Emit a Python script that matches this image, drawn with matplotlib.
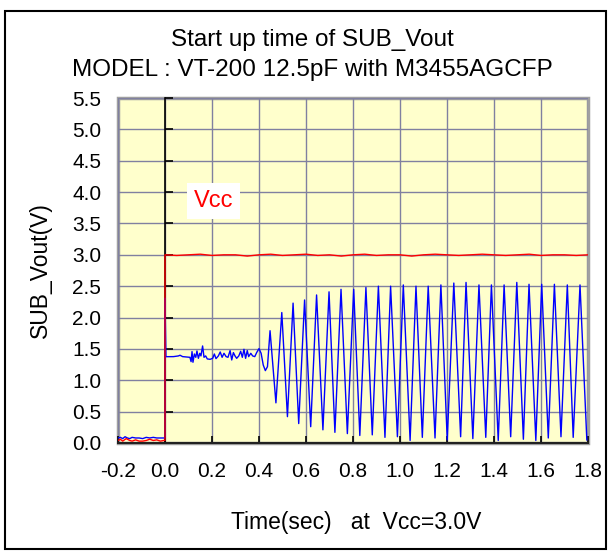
import matplotlib
matplotlib.use("Agg")
import matplotlib.pyplot as plt
from matplotlib.patches import Rectangle

plt.rcParams['font.family'] = ['Liberation Sans', 'DejaVu Sans']

# --- dados ---
# SUB_Vout antes de t=0
pre_t = [-0.200, -0.190, -0.180, -0.170, -0.160, -0.150, -0.140, -0.125, -0.110,
         -0.095, -0.080, -0.065, -0.050, -0.035, -0.020, -0.005, 0.000]
pre_v = [0.08, 0.09, 0.07, 0.10, 0.08, 0.07, 0.09, 0.08, 0.08,
         0.07, 0.09, 0.08, 0.09, 0.08, 0.08, 0.08, 0.08]

# pico no instante da partida e patamar com ruído
flat_t = [0.000, 0.004, 0.036, 0.057, 0.064, 0.075, 0.106, 0.111, 0.115, 0.119,
          0.125, 0.131, 0.136, 0.142, 0.148, 0.153, 0.160, 0.166, 0.173, 0.180,
          0.192, 0.203, 0.210, 0.217, 0.227, 0.235, 0.243, 0.251, 0.260, 0.268,
          0.277, 0.284, 0.291, 0.298, 0.305, 0.314, 0.322, 0.329, 0.336, 0.343,
          0.350, 0.356, 0.365, 0.373, 0.382, 0.390, 0.400, 0.409, 0.418, 0.427,
          0.436]
flat_v = [2.31, 1.376, 1.377, 1.388, 1.399, 1.377, 1.366, 1.297, 1.457, 1.287,
          1.419, 1.366, 1.467, 1.350, 1.430, 1.388, 1.547, 1.366, 1.388, 1.340,
          1.334, 1.350, 1.419, 1.345, 1.388, 1.451, 1.366, 1.430, 1.377, 1.366,
          1.473, 1.324, 1.441, 1.388, 1.350, 1.388, 1.462, 1.366, 1.494, 1.350,
          1.473, 1.377, 1.430, 1.388, 1.377, 1.441, 1.505, 1.430, 1.244, 1.154,
          1.217]

# oscilação: picos e vales
osc_t = [0.447, 0.472, 0.497, 0.521, 0.545, 0.569, 0.594, 0.620, 0.645, 0.672,
         0.698, 0.723, 0.749, 0.776, 0.803, 0.829, 0.855, 0.882, 0.908, 0.936,
         0.960, 0.989, 1.014, 1.043, 1.068, 1.095, 1.120, 1.149, 1.174, 1.201,
         1.229, 1.258, 1.281, 1.310, 1.336, 1.365, 1.389, 1.418, 1.443, 1.471,
         1.497, 1.525, 1.549, 1.578, 1.603, 1.631, 1.657, 1.685, 1.712, 1.737,
         1.766, 1.795]
osc_v = [1.79, 0.64, 2.08, 0.42, 2.23, 0.31, 2.28, 0.26, 2.36, 0.21,
         2.41, 0.17, 2.45, 0.15, 2.45, 0.12, 2.48, 0.13, 2.50, 0.09,
         2.50, 0.10, 2.52, 0.04, 2.50, 0.09, 2.50, 0.08, 2.52, 0.05,
         2.55, 0.10, 2.56, 0.07, 2.52, 0.09, 2.52, 0.04, 2.52, 0.10,
         2.56, 0.06, 2.53, 0.04, 2.53, 0.08, 2.53, 0.10, 2.52, 0.09,
         2.52, 0.05]

# Vcc
vcc_t = [-0.200, -0.190, -0.180, -0.165, -0.150, -0.140, -0.125, -0.110, -0.095,
         -0.080, -0.065, -0.050, -0.035, -0.020, -0.005, 0.000,
         0.000, 0.050, 0.100, 0.150, 0.200, 0.250, 0.300, 0.350, 0.400, 0.450,
         0.500, 0.550, 0.600, 0.650, 0.700, 0.750, 0.800, 0.850, 0.900, 0.950,
         1.000, 1.050, 1.100, 1.150, 1.200, 1.250, 1.300, 1.350, 1.400, 1.450,
         1.500, 1.550, 1.600, 1.650, 1.700, 1.750, 1.800]
vcc_v = [0.04, 0.06, 0.03, 0.07, 0.04, 0.03, 0.05, 0.03, 0.03,
         0.04, 0.06, 0.04, 0.05, 0.03, 0.04, 0.04,
         3.00, 2.99, 3.00, 3.01, 2.99, 3.00, 3.00, 2.98, 3.00, 3.01,
         2.99, 3.00, 3.01, 2.99, 3.00, 2.98, 3.00, 3.01, 2.99, 3.00,
         3.00, 2.98, 3.00, 3.01, 3.00, 2.99, 3.00, 3.01, 3.00, 2.99,
         3.00, 3.01, 2.99, 3.00, 3.00, 2.99, 3.00]

x_ticks = [-0.2, 0.0, 0.2, 0.4, 0.6, 0.8, 1.0, 1.2, 1.4, 1.6, 1.8]
y_ticks = [0.0, 0.5, 1.0, 1.5, 2.0, 2.5, 3.0, 3.5, 4.0, 4.5, 5.0, 5.5]

# --- figura ---
fig = plt.figure(figsize=(6.12, 5.55), dpi=100)
ax = fig.add_axes([118 / 612, 1 - 443 / 555, 470 / 612, 345 / 555])
ax.set_facecolor('#FFFFCC')

blue_t = pre_t + flat_t + osc_t
blue_v = pre_v + flat_v + osc_v
ax.plot(blue_t, blue_v, color='#0000FF', lw=1.0, zorder=3)
ax.plot(vcc_t, vcc_v, color='#FF0000', lw=1.0, zorder=4)

ax.set_xlim(-0.2, 1.8)
ax.set_ylim(0, 5.5)
ax.set_xticks(x_ticks)
ax.set_yticks(y_ticks)
ax.set_xticklabels([f'{v:.1f}' for v in x_ticks])
ax.set_yticklabels([f'{v:.1f}' for v in y_ticks])
ax.grid(True, color='#8080A0', lw=1.0, zorder=1)
ax.set_axisbelow(True)

# bordas da área de plotagem
for s in ['left', 'top']:
    ax.spines[s].set_visible(False)
ax.patch.set_edgecolor('#A0A0A0')
ax.patch.set_linewidth(2.5)
ax.spines['bottom'].set_color('#222222')
ax.spines['bottom'].set_linewidth(1.5)
ax.spines['right'].set_position(('data', 0))
ax.spines['right'].set_color('black')
ax.spines['right'].set_linewidth(1.2)
ax.spines['right'].set_zorder(2)

ax.tick_params(axis='y', left=False, right=True, labelleft=True, labelright=False,
               direction='out', length=6, width=1.2, pad=6, labelsize=15)
ax.tick_params(axis='x', direction='in', length=5, width=1.2, pad=14, labelsize=15)

# rótulo Vcc
ax.text(0.208, 3.86, 'Vcc', color='#FF0000', fontsize=17, ha='center', va='center',
        bbox=dict(facecolor='white', edgecolor='none', pad=5), zorder=5)

# títulos e rótulos
fig.text(312 / 612, 1 - 40 / 555, 'Start up time of SUB_Vout', fontsize=17.5,
         ha='center', va='center')
fig.text(312 / 612, 1 - 70 / 555, 'MODEL : VT-200 12.5pF with M3455AGCFP', fontsize=17.5,
         ha='center', va='center')
fig.text(40 / 612, 1 - 270 / 555, 'SUB_Vout(V)', fontsize=16.5, rotation=90,
         ha='center', va='center')
fig.text(356 / 612, 1 - 522 / 555, 'Time(sec)   at  Vcc=3.0V', fontsize=16.5,
         ha='center', va='center')

# moldura externa
fig.patches.append(Rectangle((5 / 612, 1 - 549 / 555), 601 / 612, 538 / 555,
                             transform=fig.transFigure, fill=False,
                             edgecolor='black', lw=1.5))

fig.savefig('out.png', dpi=100)
